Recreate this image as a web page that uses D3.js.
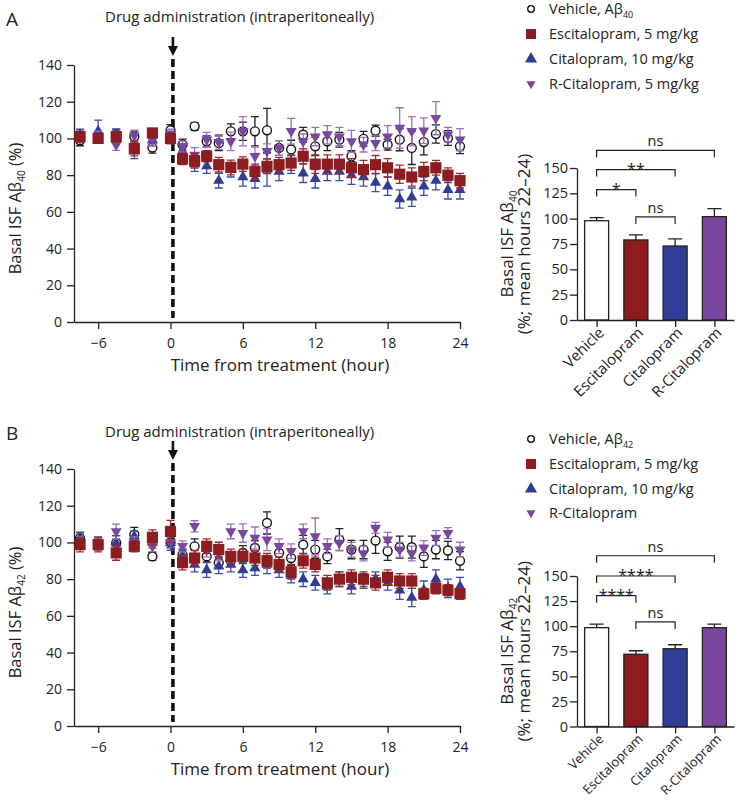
<!DOCTYPE html>
<html>
<head>
<meta charset="utf-8">
<script src="https://cdn.jsdelivr.net/npm/d3@7"></script>
<style>
  body { margin: 0; background: #fff; }
  svg { font-family: "Open Sans", sans-serif; }
  .axis path, .axis line { stroke: #222; stroke-width: 1.3; }
  .axis text { fill: #222; }
</style>
</head>
<body>
<div id="app"></div>
<script>
// sampling times (hours from treatment)
const times = [-7.5, -6, -4.5, -3, -1.5, 0, 1, 2, 3, 4, 5, 6, 7, 8, 9, 10, 11, 12, 13, 14, 15, 16, 17, 18, 19, 20, 21, 22, 23, 24];
const doseTime = 0.2;
const xTicks = [-6, 0, 6, 12, 18, 24];
const yTicks = [0, 20, 40, 60, 80, 100, 120, 140];
const barTicks = [0, 25, 50, 75, 100, 125, 150];

// panel A, Abeta40 (% baseline, mean and SEM)
const vehA = [99, 100, 102, 101, 95, 104.5, 96.6, 106.6, 98.4, 97.4, 103.9, 103.9, 103.9, 104.4, 94.8, 94, 102, 95.7, 98.4, 99.3, 90.3, 99.8, 104.2, 96.6, 99.3, 94.8, 98, 102.4, 100.2, 95.7];
const vehAErr = [3, 2, 3, 3, 3, 3, 3, 2, 3, 4, 4, 5, 8, 12, 4, 5, 4, 5, 5, 4, 3, 4, 3, 3, 6, 9, 7, 5, 4, 4];
const escA = [101, 100, 101, 94.5, 103, 100, 88.8, 87.9, 90.3, 85.7, 84.2, 86, 82, 84.8, 85.7, 86.6, 90.3, 86, 86, 86, 84, 83, 85.7, 84, 80.5, 79, 82, 84, 80, 77];
const escAErr = [3, 2, 3, 4, 2, 3, 3, 4, 3, 4, 4, 4, 4, 4, 4, 4, 4, 5, 5, 5, 5, 5, 5, 5, 5, 5, 5, 4, 4, 4];
const citA = [102, 104, 102, 93, 99, 101, 93, 86, 85, 77, 83, 79, 78, 83, 82, 86, 81, 78, 82, 82, 80, 79, 76, 74, 67, 68, 74, 77, 72, 72];
const citAErr = [3, 6, 3, 4, 3, 3, 4, 4, 4, 4, 4, 5, 5, 9, 5, 5, 5, 5, 5, 5, 5, 5, 5, 5, 5, 5, 5, 5, 5, 5];
const rcitA = [100, 101, 96.5, 101.5, 99, 102, 95.7, 91, 99.3, 98, 98.4, 103.9, 90.3, 93, 94.8, 103.9, 98.4, 101, 102, 101, 98.4, 96.6, 97.4, 101, 105.7, 103.9, 104.2, 111, 102, 99.3];
const rcitAErr = [2, 3, 3, 3, 3, 3, 3, 4, 4, 4, 5, 8, 5, 4, 4, 7, 4, 5, 5, 5, 6, 4, 4, 6, 11, 8, 7, 9, 4, 6];

// panel B, Abeta42
const vehB = [102.4, 99, 99.7, 104.2, 92.4, 100, 93.3, 97.9, 92.4, 89, 90, 94.3, 97, 110.6, 94.3, 91.5, 98.8, 96.1, 92.4, 101.5, 96.1, 96.1, 101, 95.2, 97.4, 97.4, 92.4, 96.1, 95.6, 90];
const vehBErr = [3, 3, 4, 4, 2, 3, 3, 4, 3, 3, 3, 4, 4, 6, 4, 4, 5, 5, 4, 6, 5, 5, 7, 5, 6, 6, 6, 5, 5, 5];
const escB = [98.8, 98.8, 94.3, 97.9, 102.8, 106, 89, 91.5, 97.9, 96.1, 92.4, 92.4, 91.5, 90, 88, 84, 90, 88, 78, 80, 81, 80, 78, 81, 79, 79, 72, 75, 74, 72];
const escBErr = [4, 4, 4, 3, 4, 6, 4, 4, 4, 4, 4, 4, 4, 4, 4, 4, 4, 4, 4, 4, 4, 4, 4, 4, 4, 4, 3, 3, 3, 3];
const citB = [102.4, 100, 99.7, 103.3, 100, 99.7, 93, 88, 85, 87, 88, 85, 86, 88, 85, 82, 80, 78, 76, 80, 76, 79, 80, 78, 74, 70, 74, 80, 75, 76];
const citBErr = [3, 3, 4, 3, 3, 4, 3, 4, 4, 4, 4, 4, 4, 5, 4, 4, 4, 4, 4, 4, 4, 4, 4, 4, 5, 5, 5, 5, 5, 5];
const rcitB = [100, 99, 106, 100, 98, 100, 97.9, 108.8, 96, 94, 106, 105.1, 102.4, 101.5, 97.9, 95.2, 106, 103.3, 97.9, 99.7, 96, 94, 107.9, 101.5, 96, 94, 97, 102.4, 105.1, 96.1];
const rcitBErr = [3, 3, 4, 3, 3, 3, 3, 3, 4, 4, 4, 5, 6, 6, 4, 4, 4, 10, 4, 4, 4, 4, 3, 4, 4, 4, 4, 4, 3, 4];

// bar charts, mean hours 22-24
const groups = ["Vehicle", "Escitalopram", "Citalopram", "R-Citalopram"];
const barA = [98, 79, 73, 102];
const barAErr = [3, 5, 7, 8];
const barB = [98.5, 72, 77.5, 98.5];
const barBErr = [3.5, 3.5, 4, 3.5];
const bracketsA = [
  { from: 0, to: 3, y: 167.4, label: "ns" },
  { from: 0, to: 2, y: 148.4, label: "**" },
  { from: 0, to: 1, y: 128.7, label: "*" },
  { from: 1, to: 2, y: 101.7, label: "ns" }
];
const bracketsB = [
  { from: 0, to: 3, y: 170.2, label: "ns" },
  { from: 0, to: 2, y: 150, label: "****" },
  { from: 0, to: 1, y: 130.4, label: "****" },
  { from: 1, to: 2, y: 104.2, label: "ns" }
];

const legendA = ["Vehicle, Aβ", "Escitalopram, 5 mg/kg", "Citalopram, 10 mg/kg", "R-Citalopram, 5 mg/kg"];
const legendB = ["Vehicle, Aβ", "Escitalopram, 5 mg/kg", "Citalopram, 10 mg/kg", "R-Citalopram"];

const RED = "#8d1c21", BLUE = "#2f3d96", PURPLE = "#7a479f";
const barColors = ["#fff", RED, BLUE, PURPLE];

const styles = [
  { shape: d3.symbolCircle, size: 62, fill: "#fff", stroke: "#111", err: "#222", rot: 0 },
  { shape: d3.symbolTriangle, size: 54, fill: BLUE, stroke: "none", err: "#3a4cb0", rot: 0 },
  { shape: d3.symbolTriangle, size: 52, fill: PURPLE, stroke: "none", err: "#9c70c6", rot: 180 },
  { shape: d3.symbolSquare, size: 125, fill: RED, stroke: "none", err: "#a3282c", rot: 0 }
];
// legend order: vehicle, escitalopram, citalopram, r-citalopram
const legendStyle = [styles[0], styles[3], styles[1], styles[2]];

const svg = d3.select("#app").append("svg").attr("width", 736).attr("height", 803);
const x = d3.scaleLinear().domain([-8, 24]).range([74, 460]);

function minus(d) { return d < 0 ? "\u2212" + Math.abs(d) : d; }

function drawSeries(g, y, vals, errs, st) {
  const pts = times.map((t, i) => ({ t, v: vals[i], e: errs[i] }));
  const eb = g.append("g").attr("stroke", st.err).attr("stroke-width", 1.3).attr("fill", "none");
  eb.selectAll("path").data(pts).join("path")
    .attr("d", d => {
      const cx = x(d.t), y1 = y(d.v + d.e), y2 = y(d.v - d.e);
      return `M${cx},${y1}V${y2}M${cx - 4},${y1}H${cx + 4}M${cx - 4},${y2}H${cx + 4}`;
    });
  g.append("g").selectAll("path").data(pts).join("path")
    .attr("d", d3.symbol().type(st.shape).size(st.size))
    .attr("transform", d => `translate(${x(d.t)},${y(d.v)}) rotate(${st.rot})`)
    .attr("fill", st.fill)
    .attr("stroke", st.stroke)
    .attr("stroke-width", 1.4);
}

function timePanel(top, bottom, series, sub, textBase, letterBase, letter) {
  const y = d3.scaleLinear().domain([0, 140]).range([bottom, top]);
  const g = svg.append("g");

  g.append("g").attr("class", "axis").attr("transform", `translate(0,${bottom})`)
    .call(d3.axisBottom(x).tickValues(xTicks).tickSize(7).tickSizeOuter(0).tickPadding(9).tickFormat(minus))
    .attr("font-size", 14).attr("font-family", null);
  g.append("g").attr("class", "axis").attr("transform", `translate(${x(-8)},0)`)
    .call(d3.axisLeft(y).tickValues(yTicks).tickSize(7).tickSizeOuter(0).tickPadding(5))
    .attr("font-size", 14).attr("font-family", null);

  g.append("text").attr("x", 280).attr("y", bottom + 49).attr("text-anchor", "middle")
    .attr("font-size", 17).attr("fill", "#222").text("Time from treatment (hour)");

  const yl = g.append("text").attr("transform", `translate(21,${(top + bottom) / 2 + 15}) rotate(-90)`)
    .attr("text-anchor", "middle").attr("font-size", 16.5).attr("fill", "#222");
  yl.append("tspan").text("Basal ISF Aβ");
  yl.append("tspan").attr("font-size", 10).attr("dy", 4).text(sub);
  yl.append("tspan").attr("dy", -4).text(" (%)");

  // dosing marker
  const xd = x(doseTime);
  const tip = top - 9;
  g.append("line").attr("x1", xd).attr("x2", xd).attr("y1", tip + 3).attr("y2", bottom - 4)
    .attr("stroke", "#111").attr("stroke-width", 3.6).attr("stroke-dasharray", "8,4");
  g.append("line").attr("x1", xd).attr("x2", xd).attr("y1", tip - 19).attr("y2", tip - 8)
    .attr("stroke", "#111").attr("stroke-width", 2.6);
  g.append("path").attr("d", `M${xd - 5},${tip - 10}L${xd + 5},${tip - 10}L${xd},${tip}Z`).attr("fill", "#111");
  g.append("text").attr("x", 105).attr("y", textBase).attr("font-size", 15).attr("fill", "#222")
    .text("Drug administration (intraperitoneally)");
  g.append("text").attr("x", 6).attr("y", letterBase).attr("font-size", 19).attr("fill", "#222").text(letter);

  series.forEach((s, i) => drawSeries(g, y, s[0], s[1], styles[i]));
}

function legend(rows, labels, sub) {
  const g = svg.append("g");
  labels.forEach((lab, i) => {
    const st = legendStyle[i];
    const size = i === 0 ? 34 : i === 1 ? 100 : i === 2 ? 64 : 36;
    g.append("path").attr("d", d3.symbol().type(st.shape).size(size))
      .attr("transform", `translate(531,${rows[i]}) rotate(${st.rot})`)
      .attr("fill", st.fill).attr("stroke", st.stroke).attr("stroke-width", 1.3);
    const t = g.append("text").attr("x", 549).attr("y", rows[i] + 5).attr("font-size", 14.5).attr("fill", "#222");
    t.append("tspan").text(lab);
    if (i === 0) t.append("tspan").attr("font-size", 9).attr("dy", 4).text(sub);
  });
}

function barPanel(bottom, top, means, errs, brackets, sub, labelSize) {
  const y = d3.scaleLinear().domain([0, 150]).range([bottom, top]);
  const xb = d3.scalePoint().domain(groups).range([577, 734]).padding(0.5);
  const g = svg.append("g");

  g.append("g").selectAll("rect").data(groups).join("rect")
    .attr("x", d => xb(d) - 12).attr("width", 24)
    .attr("y", (d, i) => y(means[i])).attr("height", (d, i) => bottom - y(means[i]))
    .attr("fill", (d, i) => barColors[i]).attr("stroke", "#222").attr("stroke-width", 1.3);
  g.append("g").attr("stroke", "#222").attr("stroke-width", 1.3).attr("fill", "none")
    .selectAll("path").data(groups).join("path")
    .attr("d", (d, i) => {
      const cx = xb(d), y0 = y(means[i]), y1 = y(means[i] + errs[i]);
      return `M${cx},${y0}V${y1}M${cx - 7},${y1}H${cx + 7}`;
    });

  const xa = g.append("g").attr("class", "axis").attr("transform", `translate(0,${bottom})`)
    .call(d3.axisBottom(xb).tickSize(7).tickSizeOuter(0))
    .attr("font-size", labelSize).attr("font-family", null);
  xa.selectAll(".tick text").attr("text-anchor", "end").attr("y", 0).attr("dy", "0.35em")
    .attr("transform", "translate(4,10) rotate(-45)");
  g.append("g").attr("class", "axis").attr("transform", "translate(577,0)")
    .call(d3.axisLeft(y).tickValues(barTicks).tickSize(7).tickSizeOuter(0).tickPadding(2))
    .attr("font-size", 14.5).attr("font-family", null);

  const yl = g.append("g").attr("transform", `translate(0,${(top + bottom) / 2}) rotate(-90)`)
    .attr("font-size", 17).attr("fill", "#222").attr("text-anchor", "middle");
  const l1 = yl.append("text").attr("x", 0).attr("y", 513);
  l1.append("tspan").text("Basal ISF Aβ");
  l1.append("tspan").attr("font-size", 10).attr("dy", 4).text(sub);
  yl.append("text").attr("x", 0).attr("y", 530).text("(%; mean hours 22–24)");

  brackets.forEach(b => {
    const x1 = xb(groups[b.from]), x2 = xb(groups[b.to]), yy = y(b.y);
    g.append("path").attr("d", `M${x1},${yy + 7}V${yy}H${x2}V${yy + 7}`)
      .attr("fill", "none").attr("stroke", "#222").attr("stroke-width", 1.2);
    const star = b.label !== "ns";
    g.append("text").attr("x", (x1 + x2) / 2).attr("y", star ? yy + 5 : yy - 4)
      .attr("text-anchor", "middle").attr("font-size", star ? 16 : 14.5).attr("fill", "#222").text(b.label);
  });
}

timePanel(65, 322, [[vehA, vehAErr], [citA, citAErr], [rcitA, rcitAErr], [escA, escAErr]], "40", 22, 26, "A");
timePanel(469, 726, [[vehB, vehBErr], [citB, citBErr], [rcitB, rcitBErr], [escB, escBErr]], "42", 437, 440, "B");
legend([9, 34, 59, 84], legendA, "40");
legend([439, 464, 489, 513], legendB, "42");
barPanel(320, 168, barA, barAErr, bracketsA, "40", 15);
barPanel(726.5, 576, barB, barBErr, bracketsB, "42", 13);
</script>
</body>
</html>
